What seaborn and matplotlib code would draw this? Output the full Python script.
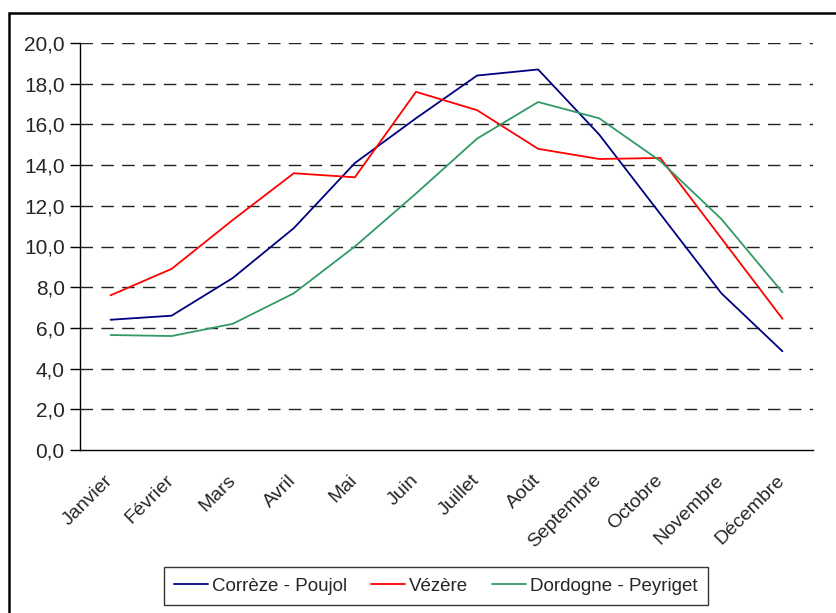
import pandas as pd
import seaborn as sns
import matplotlib.pyplot as plt
from matplotlib.patches import Rectangle


months = ['Janvier', 'Février', 'Mars', 'Avril', 'Mai', 'Juin', 'Juillet',
          'Août', 'Septembre', 'Octobre', 'Novembre', 'Décembre']
series_names = ['Corrèze - Poujol', 'Vézère', 'Dordogne - Peyriget']
correze = [6.4, 6.6, 8.45, 10.9, 14.1, 16.3, 18.4, 18.7, 15.5, 11.6, 7.7, 4.85]
vezere = [7.6, 8.9, 11.3, 13.6, 13.4, 17.6, 16.7, 14.8, 14.3, 14.35, 10.4, 6.45]
dordogne = [5.65, 5.6, 6.2, 7.7, 10.0, 12.6, 15.3, 17.1, 16.3, 14.2, 11.35, 7.75]
yticks = [0, 2, 4, 6, 8, 10, 12, 14, 16, 18, 20]
colors = ['#000080', '#FF0000', '#339966']

rows = []
for name, vals in zip(series_names, [correze, vezere, dordogne]):
    for i, v in enumerate(vals):
        rows.append({'mois': i, 'valeur': v, 'station': name})
df = pd.DataFrame(rows)

sns.set_style('white')
plt.rcParams['font.family'] = ['Liberation Sans', 'DejaVu Sans']

fig = plt.figure(figsize=(8.37, 6.13), dpi=100)
ax = fig.add_axes([80 / 837, 1 - 450 / 613, 733 / 837, 407 / 613])

# dashed horizontal grid
for y in yticks[1:]:
    ax.axhline(y, color='#222222', lw=1, ls=(0, (9, 6)), zorder=0)

sns.lineplot(data=df, x='mois', y='valeur', hue='station', hue_order=series_names,
             palette=colors, lw=1.3, ax=ax, legend=True)

ax.set_xlim(-0.5, 11.5)
ax.set_ylim(0, 20)
ax.set_yticks(yticks)
ax.set_yticklabels([f'{v:.1f}'.replace('.', ',') for v in yticks], fontsize=15)
ax.set_xticks(range(12))
ax.set_xticklabels(months, fontsize=14, rotation=45, ha='right',
                   va='center', rotation_mode='anchor')
ax.set_xticks([i - 0.5 for i in range(13)], minor=True)
ax.tick_params(axis='x', which='major', length=0, pad=20)
ax.tick_params(axis='x', which='minor', length=6, width=1, color='black', direction='out')
ax.tick_params(axis='y', length=7, width=1, color='black', direction='out', left=True, pad=4)
ax.set_xlabel('')
ax.set_ylabel('')

for s in ['top', 'right']:
    ax.spines[s].set_visible(False)
for s in ['left', 'bottom']:
    ax.spines[s].set_color('black')
    ax.spines[s].set_linewidth(1)

handles, labels = ax.get_legend_handles_labels()
ax.get_legend().remove()
leg = fig.legend(handles, labels, loc='center', bbox_to_anchor=(436 / 837, 1 - 586 / 613),
                 ncol=3, fontsize=13.5, frameon=True, fancybox=False, handlelength=1.8,
                 handletextpad=0.2, columnspacing=1.3, borderpad=0.55)
leg.get_frame().set_edgecolor('black')
leg.get_frame().set_linewidth(1)

# outer chart border (cut off at right and bottom)
fig.add_artist(Rectangle((9 / 837, -0.5), 2, 1 - 13 / 613 + 0.5, transform=fig.transFigure,
                         fill=False, edgecolor='black', lw=1.8))

fig.savefig('out.png', dpi=100)
